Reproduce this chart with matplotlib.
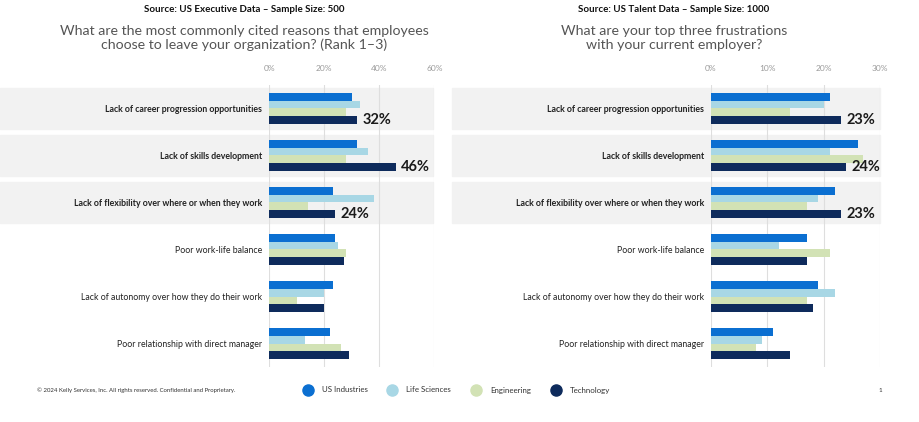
import matplotlib
matplotlib.use("Agg")
import matplotlib.pyplot as plt
from matplotlib.patches import Rectangle
from matplotlib.lines import Line2D
import matplotlib.transforms as mtransforms
import numpy as np

plt.rcParams['font.family'] = ['Lato', 'DejaVu Sans']

# --- datos ---
categories = [
    "Lack of career progression opportunities",
    "Lack of skills development",
    "Lack of flexibility over where or when they work",
    "Poor work-life balance",
    "Lack of autonomy over how they do their work",
    "Poor relationship with direct manager",
]
series_names = ["US Industries", "Life Sciences", "Engineering", "Technology"]
colors = ["#0B6FD1", "#A8D7E5", "#D2E2B5", "#0E2B5C"]

# ejecutivos (Rank 1-3), %
exec_us = [30, 32, 23, 24, 23, 22]
exec_ls = [33, 36, 38, 25, 20, 13]
exec_eng = [28, 28, 14, 28, 10, 26]
exec_tech = [32, 46, 24, 27, 20, 29]
exec_ticks = [0, 20, 40, 60]

# talento (top 3 frustraciones), %
talent_us = [21, 26, 22, 17, 19, 11]
talent_ls = [20, 21, 19, 12, 22, 9]
talent_eng = [14, 27, 17, 21, 17, 8]
talent_tech = [23, 24, 23, 17, 18, 14]
talent_ticks = [0, 10, 20, 30]

highlight_rows = [0, 1, 2]

W, H = 920, 422
fig = plt.figure(figsize=(W / 100, H / 100), dpi=100)


def px_axes(x0, x1, y0, y1):
    return fig.add_axes([x0 / W, (H - y1) / H, (x1 - x0) / W, (y1 - y0) / H])


def draw_panel(ax, vals, ticks, band_x0, band_x1):
    y = np.arange(len(categories))
    bh = 0.17
    offs = [-1.5, -0.5, 0.5, 1.5]
    for s, (v, c) in enumerate(zip(vals, colors)):
        ax.barh(y + offs[s] * bh, v, height=bh, color=c, zorder=3)
    ax.set_xlim(ticks[0], ticks[-1])
    ax.set_ylim(len(categories) - 0.5, -0.5)
    ax.set_facecolor("none")
    for sp in ax.spines.values():
        sp.set_visible(False)
    ax.xaxis.tick_top()
    ax.set_xticks(ticks)
    ax.set_xticklabels([f"{t}%" for t in ticks])
    ax.tick_params(axis="x", length=0, pad=9, labelsize=6, labelcolor="#9a9a9a")
    ax.set_yticks(y)
    ax.set_yticklabels(categories)
    ax.tick_params(axis="y", length=0, pad=5, labelsize=6.3, labelcolor="#222222")
    for i, lab in enumerate(ax.get_yticklabels()):
        if i in highlight_rows:
            lab.set_fontweight("bold")
    ax.grid(axis="x", color="#dedede", lw=0.8, zorder=1)
    ax.grid(axis="y", visible=False)
    ax.set_axisbelow(True)
    # bandas grises
    tr = mtransforms.blended_transform_factory(fig.transFigure, ax.transData)
    for r in highlight_rows:
        ax.add_patch(Rectangle((band_x0 / W, r - 0.44), (band_x1 - band_x0) / W, 0.88,
                               transform=tr, color="#f2f2f2", zorder=0.1, clip_on=False))
        tech = vals[3][r]
        ax.annotate(f"{tech}%", (tech, r + 1.5 * bh), xytext=(4, 0), textcoords="offset points",
                    ha="left", va="center", fontsize=10.5, fontweight="bold", color="#1a1a1a",
                    zorder=4)


ax1 = px_axes(269.3, 434.3, 85, 367)
draw_panel(ax1, [exec_us, exec_ls, exec_eng, exec_tech], exec_ticks, 0, 433)

ax2 = px_axes(711, 880.3, 85, 367)
draw_panel(ax2, [talent_us, talent_ls, talent_eng, talent_tech], talent_ticks, 452, 880)

# titulos
fig.text(244.5 / W, 1 - 10 / H, "Source: US Executive Data \u2013 Sample Size: 500",
         ha="center", va="center", fontsize=7, fontweight="bold", color="#111111")
fig.text(244.5 / W, 1 - 38 / H,
         "What are the most commonly cited reasons that employees\nchoose to leave your organization? (Rank 1\u20133)",
         ha="center", va="center", fontsize=10.2, color="#555555", linespacing=1.15)
fig.text(674 / W, 1 - 10 / H, "Source: US Talent Data \u2013 Sample Size: 1000",
         ha="center", va="center", fontsize=7, fontweight="bold", color="#111111")
fig.text(674 / W, 1 - 38 / H,
         "What are your top three frustrations\nwith your current employer?",
         ha="center", va="center", fontsize=10.2, color="#555555", linespacing=1.15)

# pie de pagina
fig.text(37 / W, 1 - 390 / H,
         "\u00a9 2024 Kelly Services, Inc. All rights reserved. Confidential and Proprietary.",
         ha="left", va="center", fontsize=4.3, color="#333333")
fig.text(880 / W, 1 - 390 / H, "1", ha="center", va="center", fontsize=4.5, color="#333333")

leg_x = [308, 392, 476, 556]
for x, name, c in zip(leg_x, series_names, colors):
    fig.add_artist(Line2D([x / W], [1 - 390 / H], marker="o", markersize=8, color=c,
                          linestyle="none", transform=fig.transFigure))
    fig.text((x + 14) / W, 1 - 390 / H, name, ha="left", va="center", fontsize=5.7,
             color="#333333")

fig.savefig("out.png", dpi=100)
